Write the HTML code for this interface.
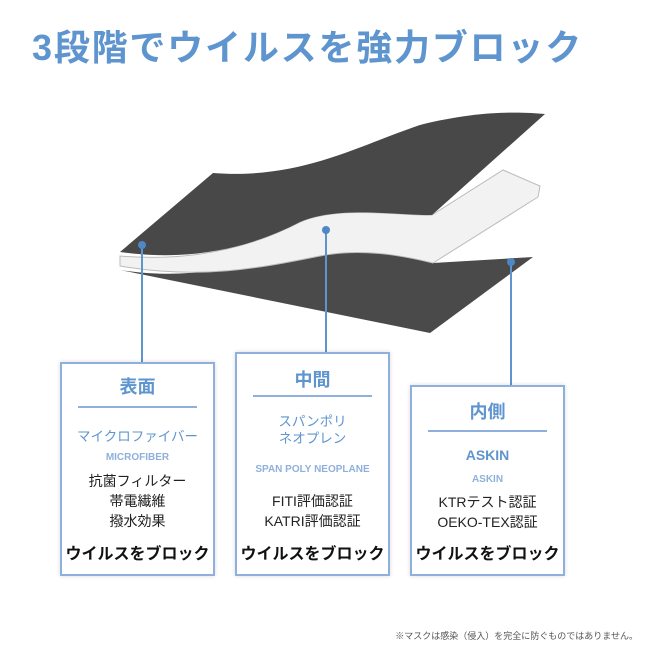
<!DOCTYPE html>
<html><head><meta charset="utf-8"><style>
body{margin:0;width:650px;height:650px;background:#fff;position:relative;overflow:hidden;font-family:"Liberation Sans","Noto Sans CJK JP",sans-serif}
.t{position:absolute;white-space:nowrap}
.box{position:absolute;border:2px solid #8fb0dc;box-shadow:0 0 4px rgba(0,0,0,.15);background:#fff;box-sizing:border-box}
.c{position:absolute;left:0;right:0;text-align:center;white-space:nowrap;line-height:1}
.h{color:#5f95cf;font-weight:bold;font-size:18px}
.hr{position:absolute;height:2px;background:#8fb0dc}
.b{color:#5f95cf;font-size:13.5px}
.s{color:#8fb0dc;font-size:10px;font-weight:bold}
.k{color:#222;font-size:14px}
.bl{color:#111;font-weight:bold;font-size:16px}
</style></head><body>
<div class="t" style="left:32px;top:19px;font-size:36px;font-weight:bold;color:#5f95cf;letter-spacing:1.8px">3段階でウイルスを強力ブロック</div>
<svg width="650" height="650" style="position:absolute;left:0;top:0">
<path d="M120,270 C200,282 250,262 333,252 C390,246 420,262 433,263 L533,257 L430,333 Z" fill="#4a4a4a"/>
<path d="M120,256 C190,262 250,248 300,222 C340,205 400,216 432,215 L503,170 L540,186 L538,197 L433,263 C400,255 360,248 320,256 C260,268 200,280 120,266 Z" fill="#f2f2f2" stroke="#bbb" stroke-width="1"/>
<path d="M120,252 L213,173 C300,180 360,145 420,125 C480,110 520,112 545,114 L432,215 C400,216 340,205 300,222 C250,248 190,262 120,252 Z" fill="#484848"/>
<g stroke="#5f95cf" stroke-width="2"><line x1="142" y1="245" x2="142" y2="362"/><line x1="326" y1="230" x2="326" y2="352"/><line x1="511" y1="262" x2="511" y2="385"/></g>
<g fill="#4f86c6"><circle cx="142" cy="245" r="4"/><circle cx="326" cy="230" r="4"/><circle cx="511" cy="262" r="4"/></g>
</svg>
<div class="box" style="left:60px;top:362px;width:155px;height:214px">
<div class="c h" style="top:14px">表面</div>
<div class="hr" style="left:16px;right:16px;top:42px"></div>
<div class="c b" style="top:66px">マイクロファイバー</div>
<div class="c s" style="top:89px">MICROFIBER</div>
<div class="c k" style="top:110px">抗菌フィルター</div>
<div class="c k" style="top:130px">帯電繊維</div>
<div class="c k" style="top:150px">撥水効果</div>
<div class="c bl" style="top:183px">ウイルスをブロック</div>
</div>
<div class="box" style="left:235px;top:352px;width:155px;height:224px">
<div class="c h" style="top:17px">中間</div>
<div class="hr" style="left:16px;right:16px;top:41px"></div>
<div class="c b" style="top:61px">スパンポリ</div>
<div class="c b" style="top:78px">ネオプレン</div>
<div class="c s" style="top:111px">SPAN POLY NEOPLANE</div>
<div class="c k" style="top:140px">FITI評価認証</div>
<div class="c k" style="top:160px">KATRI評価認証</div>
<div class="c bl" style="top:193px">ウイルスをブロック</div>
</div>
<div class="box" style="left:410px;top:385px;width:155px;height:191px">
<div class="c h" style="top:16px">内側</div>
<div class="hr" style="left:16px;right:16px;top:43px"></div>
<div class="c h" style="top:61px;font-size:14px">ASKIN</div>
<div class="c s" style="top:88px">ASKIN</div>
<div class="c k" style="top:108px">KTRテスト認証</div>
<div class="c k" style="top:128px">OEKO-TEX認証</div>
<div class="c bl" style="top:160px">ウイルスをブロック</div>
</div>
<div class="t" style="right:12px;top:629px;font-size:9px;color:#555">※マスクは感染（侵入）を完全に防ぐものではありません。</div>
</body></html>
